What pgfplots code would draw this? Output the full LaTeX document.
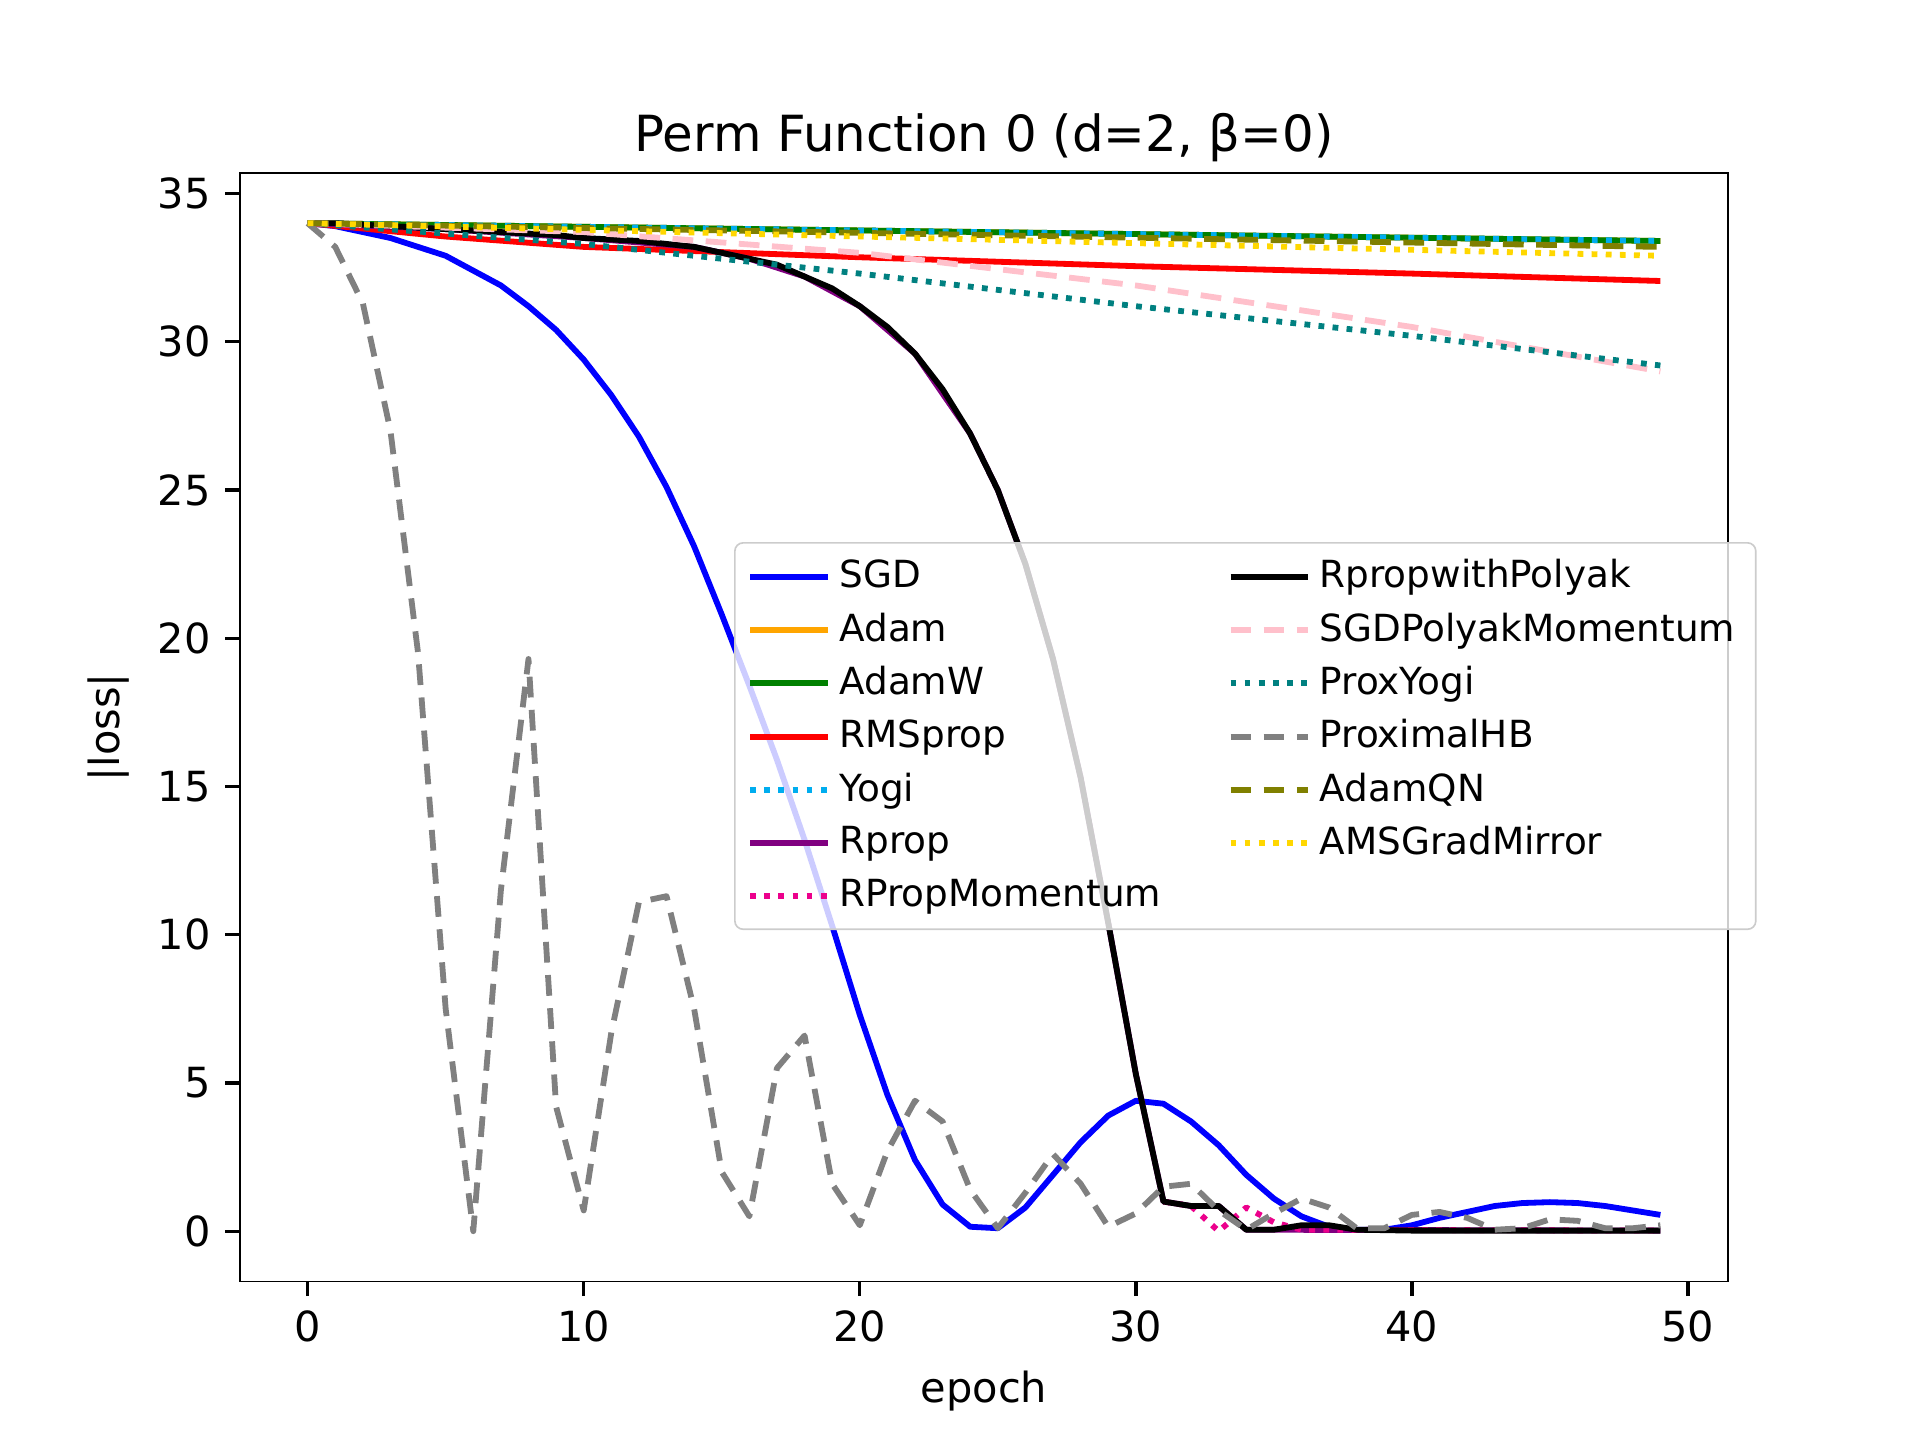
\documentclass[border=0pt]{standalone}
\usepackage{fontspec}
\setmainfont{DejaVu Sans}
\usepackage{pgfplots}
\pgfplotsset{compat=1.18}
\definecolor{mplpink}{HTML}{FFC0CB}
\definecolor{mplpurple}{HTML}{800080}
\definecolor{mplgold}{HTML}{FFD700}
\definecolor{mplorange}{HTML}{FFA500}
\definecolor{mplgreen}{HTML}{008000}
\definecolor{mplteal}{HTML}{008080}
\definecolor{mplolive}{HTML}{808000}
\begin{document}
\begin{tikzpicture}
\begin{axis}[
  scale only axis, width=4.96in, height=3.696in,
  xmin=-2.45, xmax=51.45, ymin=-1.7, ymax=35.7,
  xtick={0,10,20,30,40,50}, ytick={0,5,10,15,20,25,30,35},
  /pgf/number format/assume math mode=true,
  tick align=outside, tick style={black, thick}, major tick length=3.5pt,
  xtick pos=bottom, ytick pos=left,
  font=\fontsize{10}{12}\selectfont,
  tick label style={font=\fontsize{10}{12}\selectfont},
  xlabel={epoch}, ylabel={|loss|},
  title={Perm Function 0 (d=2, β=0)},
  title style={font=\fontsize{12}{14}\selectfont, yshift=-7pt},
  legend columns=2,
  legend style={at={(0.332,0.667)}, anchor=north west, draw=black!20, rounded corners=2pt,
    fill=white, fill opacity=0.8, text opacity=1, font=\fontsize{9}{10}\selectfont,
    /tikz/every even column/.append style={column sep=14pt}, row sep=0.5pt,
    /tikz/every odd column/.append style={}},
  legend image post style={xscale=1.1},
  legend cell align=left,
  every axis plot/.append style={line width=1.4pt, line join=round, forget plot},
]
\addplot[blue] coordinates {(0,34)(1,33.9)(2,33.7)(3,33.5)(4,33.2)(5,32.9)(6,32.4)(7,31.9)(8,31.2)(9,30.4)(10,29.4)(11,28.2)(12,26.8)(13,25.1)(14,23.1)(15,20.8)(16,18.4)(17,15.9)(18,13.2)(19,10.3)(20,7.3)(21,4.6)(22,2.4)(23,0.9)(24,0.15)(25,0.1)(26,0.8)(27,1.9)(28,3.0)(29,3.9)(30,4.4)(31,4.3)(32,3.7)(33,2.9)(34,1.9)(35,1.1)(36,0.5)(37,0.15)(38,0.05)(39,0.05)(40,0.2)(41,0.45)(42,0.65)(43,0.85)(44,0.95)(45,0.98)(46,0.95)(47,0.85)(48,0.7)(49,0.55)};
\addplot[mplorange] coordinates {(0,34)(49,33.4)};
\addplot[mplgreen] coordinates {(0,34)(49,33.4)};
\addplot[red] coordinates {(0,34)(5,33.55)(10,33.2)(20,32.85)(30,32.55)(40,32.3)(49,32.05)};
\addplot[cyan, dotted] coordinates {(0,34)(49,33.4)};
\addplot[mplpurple] coordinates {(0,34)(5,33.8)(10,33.5)(14,33.2)(16,32.8)(18,32.2)(20,31.2)(22,29.6)(24,26.9)(25,25.0)(26,22.5)(27,19.3)(28,15.3)(29,10.4)(30,5.3)(31,1.0)(32,0.85)(33,0.85)(34,0.05)(49,0.02)};
\addplot[magenta, dotted] coordinates {(31,1.0)(32,0.85)(33,0.0)(34,0.8)(35,0.3)(36,0.05)(49,0.02)};
\addplot[black] coordinates {(0,34)(1,34)(2,33.95)(3,33.9)(4,33.85)(5,33.8)(6,33.75)(7,33.7)(8,33.65)(9,33.6)(10,33.5)(11,33.45)(12,33.4)(13,33.3)(14,33.2)(15,33.0)(16,32.8)(17,32.6)(18,32.2)(19,31.8)(20,31.2)(21,30.5)(22,29.6)(23,28.4)(24,26.9)(25,25.0)(26,22.5)(27,19.3)(28,15.3)(29,10.4)(30,5.3)(31,1.0)(32,0.85)(33,0.85)(34,0.05)(35,0.05)(36,0.2)(37,0.2)(38,0.05)(40,0.02)(49,0.02)};
\addplot[mplpink, dash pattern=on 5pt off 3pt] coordinates {(0,34)(10,33.7)(20,33.0)(30,31.9)(40,30.5)(49,29.0)};
\addplot[mplteal, dotted] coordinates {(0,34)(10,33.3)(20,32.3)(30,31.2)(40,30.2)(49,29.2)};
\addplot[gray, dash pattern=on 5pt off 3pt] coordinates {(0,34)(1,33.2)(2,31.3)(3,27)(4,19.5)(5,7.5)(6,0)(7,11.5)(8,19.3)(9,4.2)(10,0.7)(11,6.7)(12,11.1)(13,11.3)(14,7.5)(15,2.0)(16,0.5)(17,5.5)(18,6.6)(19,1.6)(20,0.2)(21,2.7)(22,4.4)(23,3.7)(24,1.4)(25,0.1)(26,1.3)(27,2.6)(28,1.6)(29,0.15)(30,0.6)(31,1.5)(32,1.6)(33,0.7)(34,0.05)(35,0.6)(36,1.1)(37,0.8)(38,0.1)(39,0.1)(40,0.55)(41,0.65)(42,0.45)(43,0.05)(44,0.1)(45,0.4)(46,0.35)(47,0.1)(48,0.1)(49,0.2)};
\addplot[mplolive, dash pattern=on 5pt off 3pt] coordinates {(0,34)(49,33.2)};
\addplot[mplgold, dotted] coordinates {(0,34)(49,32.9)};
\addlegendimage{blue, line width=1.4pt}\addlegendentry{SGD}
\addlegendimage{black, line width=1.4pt}\addlegendentry{RpropwithPolyak}
\addlegendimage{mplorange, line width=1.4pt}\addlegendentry{Adam}
\addlegendimage{mplpink, dash pattern=on 5pt off 3pt, line width=1.4pt}\addlegendentry{SGDPolyakMomentum}
\addlegendimage{mplgreen, line width=1.4pt}\addlegendentry{AdamW}
\addlegendimage{mplteal, dotted, line width=1.4pt}\addlegendentry{ProxYogi}
\addlegendimage{red, line width=1.4pt}\addlegendentry{RMSprop}
\addlegendimage{gray, dash pattern=on 5pt off 3pt, line width=1.4pt}\addlegendentry{ProximalHB}
\addlegendimage{cyan, dotted, line width=1.4pt}\addlegendentry{Yogi}
\addlegendimage{mplolive, dash pattern=on 5pt off 3pt, line width=1.4pt}\addlegendentry{AdamQN}
\addlegendimage{mplpurple, line width=1.4pt}\addlegendentry{Rprop}
\addlegendimage{mplgold, dotted, line width=1.4pt}\addlegendentry{AMSGradMirror}
\addlegendimage{magenta, dotted, line width=1.4pt}\addlegendentry{RPropMomentum}
\path (rel axis cs:0,0) ++(-0.8in,-0.528in) coordinate (bl);
\path (rel axis cs:0,0) ++(5.6in,4.272in) coordinate (tr);
\end{axis}
\path[use as bounding box] (bl) rectangle (tr);
\end{tikzpicture}
\end{document}
